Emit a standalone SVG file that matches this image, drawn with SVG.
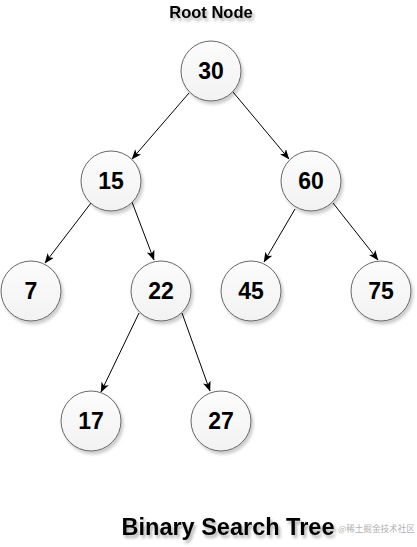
<svg xmlns="http://www.w3.org/2000/svg" width="417" height="547" viewBox="0 0 417 547">
  <style>
    .node circle { fill: url(#g); stroke: #666666; stroke-width: 1; filter: url(#sh); }
    .node text { font-family: "Liberation Sans", Arial, sans-serif; font-weight: bold; font-size: 23px; fill: #000; text-anchor: middle; }
    .title { font-family: "Liberation Sans", Arial, sans-serif; font-weight: bold; fill: #000; text-anchor: middle; filter: url(#tsh); }
    #edges line { stroke: #000; stroke-width: 1; marker-end: url(#arr); }
  </style>
  <defs>
    <linearGradient id="g" x1="0" y1="0" x2="0" y2="1">
      <stop offset="0" stop-color="#fcfcfc"/>
      <stop offset="1" stop-color="#f2f2f2"/>
    </linearGradient>
    <filter id="sh" x="-30%" y="-30%" width="170%" height="170%">
      <feDropShadow dx="2" dy="3" stdDeviation="1.5" flood-color="#000" flood-opacity="0.2"/>
    </filter>
    <filter id="tsh" x="-20%" y="-50%" width="140%" height="200%">
      <feDropShadow dx="2" dy="3" stdDeviation="1.5" flood-color="#000" flood-opacity="0.3"/>
    </filter>
    <marker id="arr" viewBox="0 0 10 8" refX="9.5" refY="4" markerWidth="10" markerHeight="8" markerUnits="userSpaceOnUse" orient="auto">
      <path d="M0,0 L10,4 L0,8 L2.5,4 Z" fill="#000"/>
    </marker>
  </defs>
  <rect width="417" height="547" fill="#ffffff"/>

  <text class="title" x="211" y="18" font-size="16.5">Root Node</text>

  <g id="edges">
    <line x1="189" y1="93" x2="132" y2="159"/>
    <line x1="233" y1="92" x2="289" y2="159"/>
    <line x1="91" y1="203" x2="45" y2="263"/>
    <line x1="132" y1="202" x2="154" y2="260"/>
    <line x1="295" y1="209" x2="264" y2="262"/>
    <line x1="333" y1="203" x2="378" y2="260"/>
    <line x1="139" y1="313" x2="101" y2="392"/>
    <line x1="182" y1="313" x2="210" y2="391"/>
  </g>

  <g id="n30" class="node"><circle cx="211" cy="71" r="30"/><text x="211" y="79">30</text></g>
  <g id="n15" class="node"><circle cx="111" cy="181" r="30"/><text x="111" y="189">15</text></g>
  <g id="n60" class="node"><circle cx="311" cy="181" r="30"/><text x="311" y="189">60</text></g>
  <g id="n7" class="node"><circle cx="31" cy="291" r="30"/><text x="31" y="299">7</text></g>
  <g id="n22" class="node"><circle cx="161" cy="291" r="30"/><text x="161" y="299">22</text></g>
  <g id="n45" class="node"><circle cx="251" cy="291" r="30"/><text x="251" y="299">45</text></g>
  <g id="n75" class="node"><circle cx="381" cy="291" r="30"/><text x="381" y="299">75</text></g>
  <g id="n17" class="node"><circle cx="91" cy="421" r="30"/><text x="91" y="429">17</text></g>
  <g id="n27" class="node"><circle cx="221" cy="421" r="30"/><text x="221" y="429">27</text></g>

  <text class="title" x="228" y="535" font-size="23.5">Binary Search Tree</text>
  <text x="338" y="532" font-family="'Noto Sans CJK SC', sans-serif" font-size="8.6" fill="#b0b0b0">@稀土掘金技术社区</text>
</svg>
